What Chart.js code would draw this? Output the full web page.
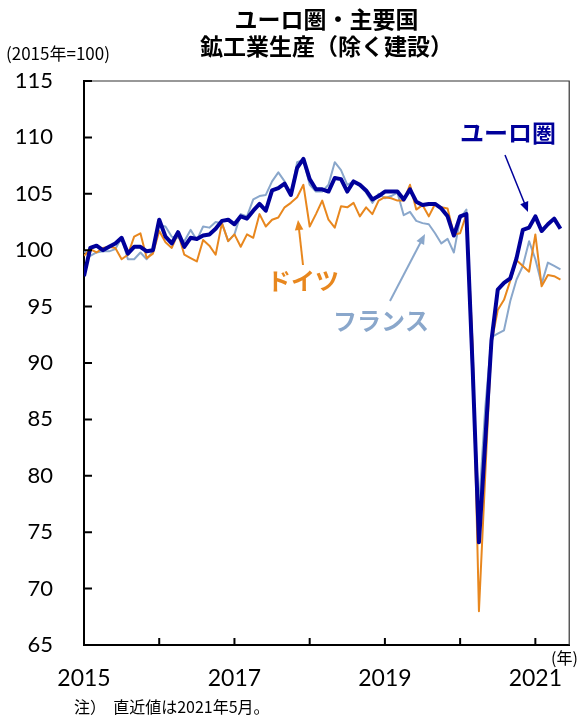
<!DOCTYPE html>
<html>
<head>
<meta charset="utf-8">
<script src="https://cdn.jsdelivr.net/npm/chart.js@4.4.0/dist/chart.umd.min.js"></script>
<style>
  html, body { margin: 0; padding: 0; background: #fff; }
</style>
</head>
<body>
<canvas id="ipChart" width="583" height="718"></canvas>
<script>
// monthly index, Jan 2015 .. May 2021 (2015 = 100)
const euroArea = [
  97.7, 100.2, 100.4, 100.0, 100.3, 100.6, 101.1, 99.7, 100.3, 100.3, 99.9, 100.0,
  102.7, 101.2, 100.6, 101.6, 100.3, 101.1, 101.0, 101.3, 101.4, 101.9, 102.6, 102.7,
  102.3, 103.0, 102.8, 103.5, 104.1, 103.5, 105.3, 105.5, 105.9, 104.9, 107.3, 108.1,
  106.3, 105.4, 105.4, 105.2, 106.4, 106.3, 105.2, 106.1, 105.8, 105.3, 104.5, 104.8,
  105.2, 105.2, 105.2, 104.5, 105.4, 104.3, 104.0, 104.1, 104.1, 103.7, 103.0, 101.3,
  103.0, 103.2, 89.5, 74.1, 83.0, 92.0, 96.5, 97.1, 97.5, 99.3, 101.8, 102.0,
  103.0, 101.7, 102.3, 102.8, 101.9
]
const germany = [
  99.5, 100.1, 99.8, 100.2, 100.3, 100.2, 99.2, 99.6, 101.2, 101.5, 99.3, 99.7,
  101.7, 100.7, 100.2, 101.5, 99.6, 99.3, 99.0, 100.9, 100.4, 99.6, 102.4, 100.8,
  101.4, 100.3, 101.4, 101.1, 103.2, 102.1, 102.7, 102.9, 103.8, 104.2, 104.7, 105.8,
  102.1, 103.2, 104.4, 102.7, 102.0, 103.9, 103.8, 104.2, 103.0, 103.8, 103.2, 104.4,
  104.7, 104.6, 104.4, 104.4, 105.8, 103.6, 104.0, 103.0, 104.1, 103.8, 103.7, 101.4,
  101.5, 103.2, 91.5, 68.0, 80.0, 91.8, 94.7, 95.6, 97.3, 99.1, 98.6, 98.1,
  101.4, 96.8, 97.8, 97.7, 97.4
]
const france = [
  99.9, 99.5, 99.8, 99.9, 99.9, 100.1, 101.1, 99.2, 99.2, 99.8, 99.2, 99.9,
  102.2, 102.1, 101.2, 101.1, 100.8, 101.8, 100.9, 102.1, 102.0, 102.5, 102.4, 100.8,
  101.4, 103.2, 103.0, 104.5, 104.8, 104.9, 106.1, 106.9, 106.1, 104.9, 107.8, 108.0,
  105.8, 105.2, 105.2, 105.8, 107.8, 107.1, 105.8, 106.1, 105.7, 105.1, 104.2, 105.0,
  104.6, 104.8, 105.1, 103.1, 103.4, 102.6, 102.4, 102.3, 101.5, 100.6, 101.0, 99.8,
  102.8, 103.6, 88.0, 77.2, 86.0, 92.3, 92.6, 92.9, 95.5, 97.4, 98.6, 100.8,
  99.2, 97.0, 98.9, 98.6, 98.3
]
const firstYear = 2015
const yearTicks = [2015, 2016, 2017, 2018, 2019, 2020, 2021]
const yearLabels = ['2015', '', '2017', '', '2019', '', '2021']
const yTicks = [65, 70, 75, 80, 85, 90, 95, 100, 105, 110, 115]

const navy = '#00009a'
const orange = '#e8871e'
const steel = '#8aa7cb'

let toPoints = function(values) {
  return values.map((v, i) => ({ x: i, y: v }))
}
let monthOf = function(year) {
  return (year - firstYear) * 12
}

// inner tick marks + frame
const frame = {
  id: 'frame',
  afterDraw(chart) {
    const ctx = chart.ctx
    const a = chart.chartArea
    const xs = chart.scales.x
    const ys = chart.scales.y
    ctx.save()
    ctx.strokeStyle = '#333'
    ctx.lineWidth = 1.2
    ctx.beginPath()
    ctx.moveTo(a.left, a.top)
    ctx.lineTo(a.right, a.top)
    ctx.lineTo(a.right, a.bottom)
    ctx.stroke()
    ctx.strokeStyle = '#000'
    ctx.lineWidth = 2
    ctx.beginPath()
    for (let v of yTicks) {
      const y = ys.getPixelForValue(v)
      ctx.moveTo(a.left, y)
      ctx.lineTo(a.left + 8, y)
    }
    for (let yr of yearTicks) {
      const x = xs.getPixelForValue(monthOf(yr))
      ctx.moveTo(x, a.bottom)
      ctx.lineTo(x, a.bottom - 7)
    }
    ctx.stroke()
    ctx.restore()
  }
}

// text labels and arrows
const notes = {
  id: 'notes',
  afterDraw(chart) {
    const ctx = chart.ctx
    const fontJP = '"Noto Sans CJK JP", sans-serif'
    let arrow = function(x1, y1, x2, y2, color, w) {
      const ang = Math.atan2(y2 - y1, x2 - x1)
      const len = 11
      ctx.strokeStyle = color
      ctx.fillStyle = color
      ctx.lineWidth = w
      ctx.beginPath()
      ctx.moveTo(x1, y1)
      ctx.lineTo(x2 - Math.cos(ang) * len * 0.8, y2 - Math.sin(ang) * len * 0.8)
      ctx.stroke()
      ctx.beginPath()
      ctx.moveTo(x2, y2)
      ctx.lineTo(x2 - len * Math.cos(ang - 0.4), y2 - len * Math.sin(ang - 0.4))
      ctx.lineTo(x2 - len * Math.cos(ang + 0.4), y2 - len * Math.sin(ang + 0.4))
      ctx.closePath()
      ctx.fill()
    }
    ctx.save()
    ctx.textBaseline = 'middle'
    ctx.textAlign = 'center'

    ctx.font = 'bold 24px ' + fontJP
    ctx.fillStyle = navy
    ctx.fillText('ユーロ圏', 508, 133)
    ctx.fillStyle = orange
    ctx.fillText('ドイツ', 303, 281)
    ctx.fillStyle = steel
    ctx.fillText('フランス', 381, 321)

    arrow(505, 155, 528, 212, navy, 1.5)
    arrow(303, 265, 298, 220, orange, 2)
    arrow(390, 301, 425, 234, steel, 2)

    ctx.fillStyle = '#000'
    ctx.textAlign = 'left'
    ctx.font = '17px ' + fontJP
    ctx.fillText('(2015年=100)', 6, 54)
    ctx.font = '16px ' + fontJP
    ctx.fillText('(年)', 551, 658)
    ctx.fillText('注）  直近値は2021年5月。', 74, 707)
    ctx.restore()
  }
}

const datasets = [
  { label: 'ユーロ圏', data: toPoints(euroArea), borderColor: navy, borderWidth: 4 },
  { label: 'ドイツ', data: toPoints(germany), borderColor: orange, borderWidth: 2 },
  { label: 'フランス', data: toPoints(france), borderColor: steel, borderWidth: 2 }
]

new Chart(document.getElementById('ipChart'), {
  type: 'line',
  data: { datasets: datasets },
  options: {
    responsive: false,
    animation: false,
    events: [],
    elements: {
      point: { radius: 0 },
      line: { tension: 0, borderJoinStyle: 'round', fill: false }
    },
    layout: { padding: { top: 0, left: 0, right: 6, bottom: 0 } },
    plugins: {
      legend: { display: false },
      tooltip: { enabled: false },
      title: {
        display: true,
        fullSize: false,
        text: ['ユーロ圏・主要国', '鉱工業生産（除く建設）'],
        color: '#000',
        font: { family: '"Noto Sans CJK JP", sans-serif', size: 23, weight: 'bold', lineHeight: 1.2 },
        padding: { top: 5, bottom: 20.8 }
      }
    },
    scales: {
      x: {
        type: 'linear',
        min: 0,
        max: 77.4,
        grid: { display: false, drawTicks: false },
        border: { display: true, color: '#000', width: 2 },
        afterFit: s => { s.height = 73 },
        afterBuildTicks: s => { s.ticks = yearTicks.map(y => ({ value: monthOf(y) })) },
        ticks: {
          autoSkip: false,
          maxRotation: 0,
          padding: 20,
          color: '#000',
          font: { family: 'Lato, sans-serif', size: 23 },
          callback: v => yearLabels[v / 12] || ''
        }
      },
      y: {
        min: 65,
        max: 115,
        grid: { display: false, drawTicks: false },
        border: { display: true, color: '#000', width: 2 },
        afterFit: s => { s.width = 84 },
        afterBuildTicks: s => { s.ticks = yTicks.map(v => ({ value: v })) },
        ticks: {
          padding: 31,
          color: '#000',
          font: { family: 'Lato, sans-serif', size: 22 }
        }
      }
    }
  },
  plugins: [frame, notes]
});
</script>
</body>
</html>
